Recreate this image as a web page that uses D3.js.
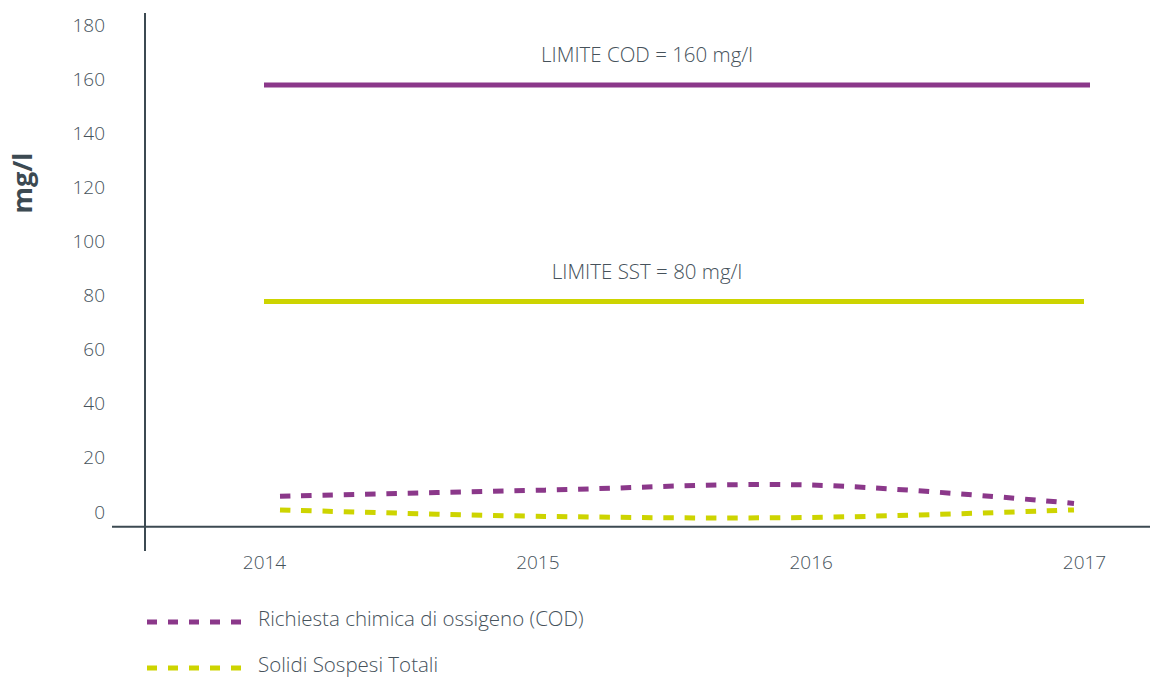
<!DOCTYPE html>
<html>
<head>
<meta charset="utf-8">
<script src="https://cdn.jsdelivr.net/npm/d3@7"></script>
<style>
  body { margin: 0; background: #fff; }
  text { font-family: "Open Sans", sans-serif; }
</style>
</head>
<body>
<div id="viz"></div>
<script>
"use strict";

var years = [2014, 2015, 2016, 2017];
var yTicks = [0, 20, 40, 60, 80, 100, 120, 140, 160, 180];
var codValues = [8.0, 10.3, 12.2, 5.4];
var sstValues = [3.0, 0.6, 0.2, 3.0];
var limits = [
	{ name: "COD", value: 160, label: "LIMITE COD = 160 mg/l" },
	{ name: "SST", value: 80, label: "LIMITE SST = 80 mg/l" }
];
var seriesNames = ["Richiesta chimica di ossigeno (COD)", "Solidi Sospesi Totali"];

var width = 1150,
	height = 681,
	purple = "#8b388a",
	yellow = "#cdd400",
	axisColor = "#3c4a52",
	textColor = "#46525b";

var svg = d3.select("#viz")
	.append("svg")
	.attr("width", width)
	.attr("height", height)

// y scale: baseline of tick labels sits on the value
var y = d3.scaleLinear()
	.domain([0, 180])
	.range([518, 31])

// label / limit positions and series positions are slightly offset in the original
var xAxisScale = d3.scalePoint()
	.domain(years)
	.range([264, 1084])

var xLine = d3.scalePoint()
	.domain(years)
	.range([280, 1074])

// axes
var yAxis = d3.axisLeft(y)
	.tickValues(yTicks)
	.tickSize(0)
	.tickPadding(0)

var yAxisG = svg.append("g")
	.attr("transform", "translate(105,0)")
	.call(yAxis)
yAxisG.select(".domain").remove()
yAxisG.selectAll("text")
	.attr("x", 0)
	.attr("dy", 0)
	.attr("fill", textColor)
	.attr("font-size", "19px")
	.attr("font-weight", 300)

var xAxis = d3.axisBottom(xAxisScale)
	.tickSize(0)
	.tickPadding(0)

var xAxisG = svg.append("g")
	.attr("transform", "translate(0,569)")
	.call(xAxis)
xAxisG.select(".domain").remove()
xAxisG.selectAll("text")
	.attr("y", 0)
	.attr("dy", 0)
	.attr("fill", textColor)
	.attr("font-size", "19px")
	.attr("font-weight", 300)

// axis lines
svg.append("line")
	.attr("x1", 145).attr("x2", 145)
	.attr("y1", 13).attr("y2", 551)
	.attr("stroke", axisColor)
	.attr("stroke-width", 2)

svg.append("line")
	.attr("x1", 112).attr("x2", width)
	.attr("y1", y(-3.2)).attr("y2", y(-3.2))
	.attr("stroke", axisColor)
	.attr("stroke-width", 2)

svg.append("text")
	.attr("transform", "translate(32,183) rotate(-90)")
	.attr("text-anchor", "middle")
	.attr("font-size", "27px")
	.attr("font-weight", "bold")
	.attr("fill", "#3c4a52")
	.text("mg/l")

// limit lines
var limitColors = { COD: purple, SST: yellow }

svg.selectAll(".limit")
	.data(limits)
	.enter()
	.append("line")
	.attr("class", "limit")
	.attr("x1", xAxisScale(2014))
	.attr("x2", function(d) { return xAxisScale(2017) + (d.name == "COD" ? 6 : 0) })
	.attr("y1", function(d) { return y(d.value) })
	.attr("y2", function(d) { return y(d.value) })
	.attr("stroke", function(d) { return limitColors[d.name] })
	.attr("stroke-width", 5)

svg.selectAll(".limit-label")
	.data(limits)
	.enter()
	.append("text")
	.attr("class", "limit-label")
	.attr("x", 647)
	.attr("y", function(d) { return y(d.value) - 23 })
	.attr("text-anchor", "middle")
	.attr("font-size", "20.5px")
	.attr("font-weight", 300)
	.attr("fill", textColor)
	.text(function(d) { return d.label })

// series
var lineFunction = d3.line()
	.x(function(d, i) { return xLine(years[i]) })
	.y(function(d) { return y(d) })
	.curve(d3.curveCardinal.tension(0))

var series = [
	{ values: codValues, color: purple },
	{ values: sstValues, color: yellow }
]

svg.selectAll(".series")
	.data(series)
	.enter()
	.append("path")
	.attr("class", "series")
	.attr("d", function(d) { return lineFunction(d.values) })
	.attr("fill", "none")
	.attr("stroke", function(d) { return d.color })
	.attr("stroke-width", 5)
	.attr("stroke-dasharray", "10.5,10.8")

// legend
var legend = svg.selectAll(".legend")
	.data(series)
	.enter()
	.append("g")
	.attr("class", "legend")
	.attr("transform", function(d, i) { return "translate(147," + (622 + i * 46) + ")" })

legend.append("line")
	.attr("x1", 0).attr("x2", 94)
	.attr("y1", 0).attr("y2", 0)
	.attr("stroke", function(d) { return d.color })
	.attr("stroke-width", 5)
	.attr("stroke-dasharray", "10,11")

legend.append("text")
	.attr("x", 111)
	.attr("y", 4)
	.attr("font-size", "20.5px")
	.attr("font-weight", 300)
	.attr("fill", textColor)
	.text(function(d, i) { return seriesNames[i] })
</script>
</body>
</html>
